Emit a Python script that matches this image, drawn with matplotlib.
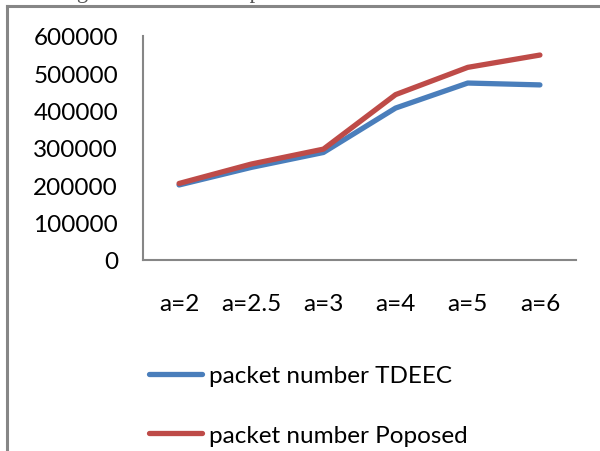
import matplotlib
matplotlib.use("Agg")
import matplotlib.pyplot as plt
from matplotlib.lines import Line2D

categories = ["a=2", "a=2.5", "a=3", "a=4", "a=5", "a=6"]
tdeec = [201000, 248000, 288000, 407000, 474000, 469000]
proposed = [205000, 257000, 297000, 443000, 516000, 549000]
series_labels = ["packet number TDEEC", "packet number Poposed"]
yticks = [0, 100000, 200000, 300000, 400000, 500000, 600000]

BLUE = "#4a7ebb"
RED = "#be4b48"
GRAY = "#868686"
FONT = "Lato"
FS = 17.5

fig = plt.figure(figsize=(6.0, 4.52), dpi=100)
fig.patch.set_facecolor("white")

# caption line of the surrounding document, cut off by the top edge
fig.text(29 / 600, 1 + 2.5 / 452, "centage received as compared to TDEEC in case a set.",
         fontsize=16.3, family="Liberation Serif", color="#555555",
         ha="left", va="baseline")

# outer chart frame
fig.add_artist(Line2D([7 / 600, 7 / 600], [0, 1 - 7 / 452], color=GRAY, lw=2.2,
                      transform=fig.transFigure))
fig.add_artist(Line2D([7 / 600, 1], [1 - 7 / 452, 1 - 7 / 452], color=GRAY, lw=2.2,
                      transform=fig.transFigure))

ax = fig.add_axes([143 / 600, 1 - 261 / 452, 433 / 600, 224 / 452])
x = range(len(categories))
l1, = ax.plot(x, tdeec, color=BLUE, lw=3.8, solid_capstyle="round",
              solid_joinstyle="round", label=series_labels[0])
l2, = ax.plot(x, proposed, color=RED, lw=3.8, solid_capstyle="round",
              solid_joinstyle="round", label=series_labels[1])

ax.set_xlim(-0.5, len(categories) - 0.5)
ax.set_ylim(0, 600000)
ax.set_xticks(list(x))
ax.set_xticklabels(categories)
ax.set_yticks(yticks)
ax.set_yticklabels([str(v) for v in yticks])
for s in ("top", "right"):
    ax.spines[s].set_visible(False)
for s in ("left", "bottom"):
    ax.spines[s].set_color(GRAY)
    ax.spines[s].set_linewidth(1.5)
ax.tick_params(axis="both", length=0, labelsize=FS, colors="black")
ax.tick_params(axis="y", pad=18)
ax.tick_params(axis="x", pad=24)
for lab in ax.get_xticklabels() + ax.get_yticklabels():
    lab.set_family(FONT)

leg = fig.legend(handles=[l1, l2], labels=series_labels,
                 loc="upper left", bbox_to_anchor=(149 / 600, 1 - 366 / 452),
                 frameon=False, prop={"family": FONT, "size": FS},
                 handlelength=2.2, handletextpad=0.25, labelspacing=1.6,
                 borderpad=0, borderaxespad=0)

fig.savefig("out.png", dpi=100)
